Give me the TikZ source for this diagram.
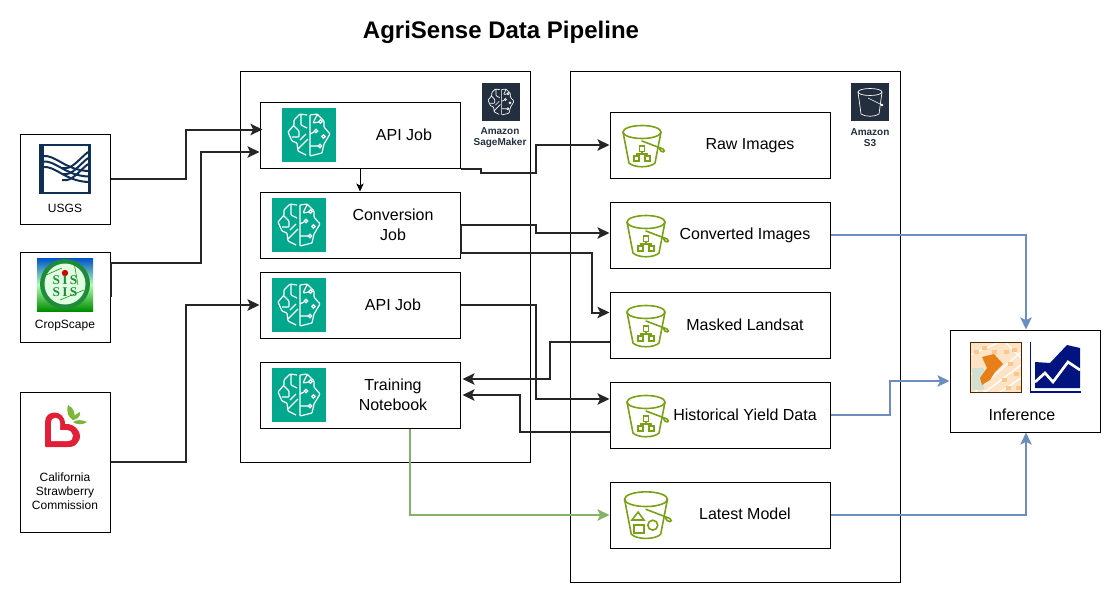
\documentclass[tikz,border=0pt]{standalone}
\usepackage{fontspec}
\setmainfont{Liberation Sans}
\newfontfamily\sisfont[LetterSpace=18]{Liberation Serif}
\usetikzlibrary{arrows.meta,calc}

\definecolor{teal}{HTML}{01A88D}
\definecolor{awsdark}{HTML}{232F3E}
\definecolor{bucketgreen}{HTML}{7AA116}
\definecolor{usgsblue}{HTML}{0F2F55}
\definecolor{greenline}{HTML}{82B366}
\definecolor{blueline}{HTML}{6C8EBF}
\definecolor{heartred}{HTML}{E21F36}
\definecolor{leafgreen}{HTML}{7DB73A}
\definecolor{cropgreen}{HTML}{1F8A3C}
\definecolor{chartblue}{HTML}{00137F}

\tikzset{
  flow/.style={draw=black!85, line width=1.5pt, -{Stealth[length=9pt,width=8.5pt,inset=2pt]}},
  thinflow/.style={draw=black, line width=.75pt, -{Stealth[length=6pt,width=5.5pt,inset=1.5pt]}},
  bluepath/.style={draw=blueline, line width=1.5pt, -{Stealth[length=9pt,width=8.5pt,inset=2pt]}},
  greenpath/.style={draw=greenline, line width=1.5pt, -{Stealth[length=9pt,width=8.5pt,inset=2pt]}},
  srcbox/.style={draw, line width=.75pt, inner sep=0pt, minimum width=67.5pt},
  jobbox/.style={draw, line width=.75pt, inner sep=0pt, minimum width=150pt, minimum height=49.5pt},
  s3box/.style={draw, line width=.75pt, inner sep=0pt, minimum width=165pt, minimum height=49.5pt},
  label/.style={inner sep=0pt, font=\fontsize{12}{15}\selectfont, align=center},
  smalllabel/.style={inner sep=0pt, font=\fontsize{9}{10.5}\selectfont, align=center},
  awslabel/.style={inner sep=0pt, text=awsdark, font=\fontsize{7.5}{8.4}\selectfont\bfseries, align=center},
}

% brain drawn round the origin, in pixels
\newcommand\brainlines[1]{
  \draw[white, line width=#1, line join=round, rounded corners=.6pt]
    (-2,-20)--(-9,-21)--(-15,-15)--(-15,-10)--(-21,-3)--(-17,6)--(-12,8)--(-11,16)--(-3,20)
    (1,-20)--(8,-21)--(15,-14)--(15,-8)--(21,-1)--(15,9)--(13,18)--(1,21)--(1,-20)
    (-8,-20)--(-8,-10)--(-2,-7)
    (-15,-9)--(-10,-4)--(-10,2)--(-17,2)
    (-11,14)--(-1,4)
    (-9,5)--(-3,-1)
    (1,11)--(9,11)
    (8,-20)--(4,-12)--(10,-13)
    (1,-1)--(5,-3);
  \foreach \cx/\cy in {11.5/-13.5,7/-4,14.5/1.5,11/11}
    \draw[white, line width=#1] (\cx,\cy) circle (1.7);
}
\newcommand\brainicon[2]{
  \begin{scope}[shift={(#1,#2)}]
    \fill[teal] (-27,-27) rectangle (27,27);
    \brainlines{.9pt}
  \end{scope}
}
% bucket, #4 is what stands inside it
\newcommand\bucketicon[4][1]{
  \begin{scope}[shift={(#2,#3)}, scale=#1, bucketgreen, line width=1.2pt]
    \draw (0,-14) ellipse (19 and 6.5);
    \draw[line join=round] (-19,-14) -- (-13,17) .. controls (-8,22) and (8,22) .. (13,17) -- (19,-14);
    \draw[fill=white, line cap=round] (0,-5) -- (21,3) .. controls (25,6) and (19,8) .. (17,2);
    #4
  \end{scope}
}
\newcommand\treeinside{
  \draw[line width=1pt] (-2.5,0) rectangle (2.5,5.5) (-8,10) rectangle (-3,15) (3,10) rectangle (8,15);
  \draw[line width=1pt] (0,5.5) -- (0,8) (-5.5,10) -- (-5.5,8) -- (5.5,8) -- (5.5,10);
}
\newcommand\shapesinside{
  \draw (-12.4,4.4) -- (-1.8,4.4) -- (-7,-2.6) -- cycle;
  \draw (-10.6,8.8) rectangle (-1.8,16);
  \draw (6,9) circle (4.4);
}

\begin{document}
\begin{tikzpicture}[x=.75pt, y=-.75pt]
  \useasboundingbox (0,0) rectangle (1111,593);

  \node[font=\fontsize{18}{20}\selectfont\bfseries, inner sep=0pt] (title) at (501,32) {AgriSense Data Pipeline};

  % containers
  \node[draw, line width=.75pt, inner sep=0pt, minimum width=217.5pt, minimum height=293.25pt] (sagebox) at (385,266.5) {};
  \node[draw, line width=.75pt, inner sep=0pt, minimum width=247.5pt, minimum height=383.25pt] (storebox) at (735,326.5) {};

  % sources
  \node[srcbox, minimum height=67.5pt] (usgs) at (65,179) {};
  \node[srcbox, minimum height=67.5pt] (cropscape) at (65,297) {};
  \node[srcbox, minimum height=105pt] (strawberry) at (65,462) {};

  % jobs
  \node[jobbox] (apijob) at (360,135) {};
  \node[jobbox] (convjob) at (360,225) {};
  \node[jobbox] (apijobb) at (360,305) {};
  \node[jobbox] (trainjob) at (360,395) {};

  % buckets
  \node[s3box] (rawimg) at (720,145) {};
  \node[s3box] (convimg) at (720,235) {};
  \node[s3box] (maskimg) at (720,325) {};
  \node[s3box] (yielddata) at (720,415) {};
  \node[s3box] (latestmodel) at (720,515) {};

  \node[draw, line width=.75pt, inner sep=0pt, minimum width=112.5pt, minimum height=76.5pt] (inference) at (1025,381) {};

  % texts
  \node[smalllabel] (usgstext) at (65,208) {USGS};
  \node[smalllabel] (croptext) at (65,326) {CropScape};
  \node[smalllabel] (strawtext) at (65,491) {California\\Strawberry\\Commission};
  \node[label] (apitext) at (404,134.5) {API Job};
  \node[label] (convtext) at (393,224.5) {Conversion\\Job};
  \node[label] (apibtext) at (393,304.5) {API Job};
  \node[label] (traintext) at (393,394.5) {Training\\Notebook};
  \node[label] (rawtext) at (750,145.5) {Raw Images};
  \node[label] (convimgtext) at (745,235.5) {Converted Images};
  \node[label] (masktext) at (745,324.5) {Masked Landsat};
  \node[label] (yieldtext) at (745,414.5) {Historical Yield Data};
  \node[label] (modeltext) at (745,514) {Latest Model};
  \node[label] (inftext) at (1022,415) {Inference};
  \node[awslabel] (sagetext) at (500,137.5) {Amazon\\SageMaker};
  \node[awslabel] (s3text) at (870,137.5) {Amazon\\S3};

  % icons
  \brainicon{309}{135}
  \brainicon{299}{225}
  \brainicon{299}{305}
  \brainicon{299}{395}

  \bucketicon{642}{146}{\treeinside}
  \bucketicon{646}{236}{\treeinside}
  \bucketicon{646}{326}{\treeinside}
  \bucketicon{646}{416}{\treeinside}
  \bucketicon[1.13]{646}{515}{\shapesinside}

  % sagemaker and s3 badges
  \fill[awsdark] (482,83) rectangle (520,121);
  \begin{scope}[shift={(501,102)}, scale=.62]
    \brainlines{.5pt}
  \end{scope}
  \fill[awsdark] (851,83) rectangle (889,121);
  \begin{scope}[shift={(870,102)}, white, line width=.5pt]
    \draw (0,-10) ellipse (12 and 3.5);
    \draw (-12,-10) -- (-9,12) .. controls (-5,15) and (5,15) .. (9,12) -- (12,-10);
    \draw (-2,-4) -- (12,3) (12,3) circle (1);
  \end{scope}

  % usgs logo
  \foreach \off in {0,5.5,11}
    \draw[usgsblue, line width=1.5pt] (42,{156+\off}) .. controls (55,{154+\off}) and (65,{170+\off}) .. (88,{171+\off});
  \foreach \off in {0,6,12}
    \draw[usgsblue, line width=1.5pt] (62,{168+\off}) .. controls (72,{170+\off}) and (78,{160+\off}) .. (88,{152+\off});
  \draw[usgsblue, line width=1.5pt] (40.5,145) rectangle (89.5,193);
  \fill[usgsblue] (39,144) rectangle (43.5,194);
  \fill[usgsblue] (87.5,144) rectangle (91,194);

  % cropscape logo
  \shade[top color=blue!60!cyan!80!black, bottom color=green!55!black, middle color=green!30!white] (37,258) rectangle (93,311);
  \fill[cropgreen] (65,284) circle (25);
  \fill[white!88!green] (65,284) circle (20.5);
  \draw[green!55!black, line width=.4pt] (46,275) -- (62,268) (60,300) -- (84,290) (74,262) -- (78,285);
  \fill[red!85!black] (65,273) circle (3.2);
  \node[inner sep=0pt, text=cropgreen, font=\sisfont\fontsize{10}{9.5}\selectfont\bfseries, align=center] (sislogo) at (65,286) {SIS\\SIS};

  % strawberry logo
  \fill[heartred] (45,446) -- (45,422) .. controls (45,409) and (65,409) .. (65,424) .. controls (76,423) and (84,435) .. (78,442) .. controls (75,447) and (71,447) .. (68,447) -- (46,447) -- cycle;
  \fill[white] (51,441) -- (51,423) .. controls (51,416) and (60,416) .. (60,423) -- (60,430) -- (66,430) .. controls (75,430) and (75,441) .. (68,441) -- cycle;
  \fill[leafgreen] (68,405) .. controls (74,408) and (76,414) .. (74,420) .. controls (68,418) and (66,412) .. (68,405) -- cycle;
  \fill[leafgreen] (72,420) .. controls (72,417) and (76,414) .. (80,412) .. controls (81,416) and (77,420) .. (72,420) -- cycle;
  \fill[leafgreen] (73,422) .. controls (77,419) and (83,420) .. (87,422) .. controls (83,425) and (77,425) .. (73,422) -- cycle;

  % inference map
  \fill[orange!22!white] (970,342) rectangle (1021,392);
  \foreach \ax/\ay/\bx/\by in {970/355/1000/342, 975/392/1021/352, 985/392/1021/365, 1000/392/1021/378, 970/372/985/392, 1005/342/1021/358}
    \draw[white, line width=1pt] (\ax,\ay) -- (\bx,\by);
  \foreach \ax/\ay in {1004/350,1012/348,1008/362,1014/372,1002/378,974/350,982/346,992/350,1016/386,1006/386}
    \fill[orange!45!white] (\ax,\ay) rectangle +(5,4);
  \fill[green!20!gray!30!white] (972,368) rectangle (984,390);
  \fill[orange!60!brown] (982,357) -- (994,354) -- (1003,364) -- (995,372) -- (990,380) -- (982,385) -- (980,378) -- (987,368) -- cycle;
  \draw[black!70!orange, line width=.6pt] (970,342) rectangle (1021,392);

  % inference chart
  \fill[chartblue] (1035,362) -- (1050,363) -- (1067,345) -- (1080,348) -- (1080,388) -- (1035,388) -- cycle;
  \draw[white, line width=2pt] (1035,382) -- (1045,373) -- (1053,382) -- (1068,362) -- (1080,370);
  \draw[chartblue, line width=1pt] (1030.5,342) -- (1030.5,392) -- (1081,392);

  % links
  \draw[flow] (usgs.east) -- ++(75,0) |- ($(apijob.west)+(3,-5.5)$);
  \draw[flow] (cropscape.east) -- ++(0,-34.5) -- ++(90.5,0) |- ($(apijob.west)+(0,17)$);
  \draw[flow] (strawberry.east) -- ++(75,0) |- (apijobb.west);
  \draw[thinflow] (apijob.south) -- (convjob.north);
  \draw[flow] (apijob.south east) -- ++(20,0) -- ++(0,4) -- ++(55,0) |- (rawimg.west);
  \draw[flow] (convjob.east) -- ++(75,0) |- ($(convimg.west)+(0,-2)$);
  \draw[flow] (convjob.east) -- ++(0,27.5) -- ++(131,0) |- ($(maskimg.west)+(0,-12.5)$);
  \draw[flow] (apijobb.east) -- ++(75,0) |- ($(yielddata.west)+(0,-16)$);
  \draw[flow] ($(maskimg.west)+(0,17)$) -- ++(-59.5,0) |- ($(trainjob.east)+(2,-16)$);
  \draw[flow] ($(yielddata.west)+(0,17)$) -- ++(-90,0) |- ($(trainjob.east)+(2,0)$);
  \draw[greenpath] ($(trainjob.south)+(50,0)$) |- (latestmodel.west);
  \draw[bluepath] (convimg.east) -| ($(inference.north)+(1,0)$);
  \draw[bluepath] (yielddata.east) -- ++(59,0) |- (inference.west);
  \draw[bluepath] (latestmodel.east) -| ($(inference.south)+(1,0)$);
\end{tikzpicture}
\end{document}
